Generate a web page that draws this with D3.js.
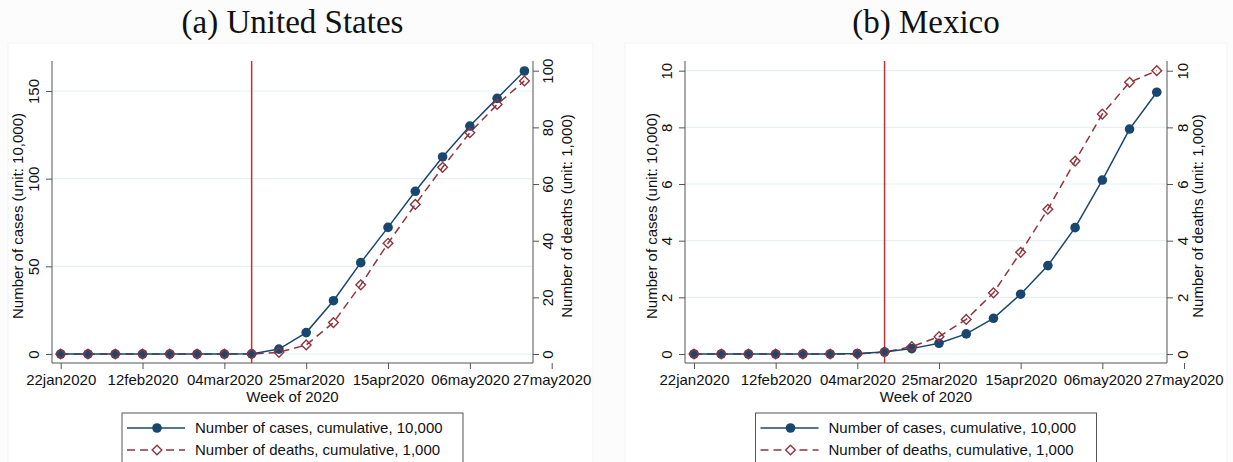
<!DOCTYPE html>
<html>
<head>
<meta charset="utf-8">
<script src="https://cdn.jsdelivr.net/npm/d3@7"></script>
<style>
  body { margin: 0; background: #fcfcfc; }
  svg { display: block; }
</style>
</head>
<body>
<svg id="chart" width="1233" height="462"></svg>
<script>
// weekly data, 22jan2020 .. 20may2020
const weeks = ["22jan2020","29jan2020","05feb2020","12feb2020","19feb2020","26feb2020",
  "04mar2020","11mar2020","18mar2020","25mar2020","01apr2020","08apr2020",
  "15apr2020","22apr2020","29apr2020","06may2020","13may2020","20may2020"];
const tickLabels = ["22jan2020","12feb2020","04mar2020","25mar2020","15apr2020","06may2020","27may2020"];
const eventWeek = "11mar2020";

const usCases  = [0,0,0,0,0,0,0,0.1,2.8,12.2,30.4,52.1,72.2,92.8,112.4,130.0,145.8,161.4];
const usDeaths = [0,0,0,0,0,0,0,0,0.6,3.2,11.1,24.4,39.1,52.8,65.9,78.1,88.1,96.4];
const mxCases  = [0,0,0,0,0,0,0.02,0.07,0.19,0.38,0.71,1.26,2.11,3.12,4.46,6.14,7.94,9.24];
const mxDeaths = [0,0,0,0,0,0,0,0.07,0.26,0.61,1.22,2.16,3.59,5.11,6.81,8.47,9.59,10.0];

const usLeftTicks = [0,50,100,150];
const usRightTicks = [0,20,40,60,80,100];
const mxLeftTicks = [0,2,4,6,8,10];
const mxRightTicks = [0,2,4,6,8,10];

const legendLabels = ["Number of cases, cumulative, 10,000", "Number of deaths, cumulative, 1,000"];

const parse = d3.timeParse("%d%b%Y");
const navy = "#1a476f", maroon = "#90353b", vred = "#c0323c";
const font = "'Liberation Sans', Arial, Helvetica, sans-serif";
const fs = "15px";

const svg = d3.select("#chart");

function drawPanel(p) {
  const g = svg.append("g");

  // panel background
  g.append("rect")
    .attr("x", p.px0).attr("y", 43)
    .attr("width", p.px1 - p.px0).attr("height", 440)
    .attr("fill", "white").attr("stroke", "#f3f3f3");

  // title
  g.append("text")
    .attr("x", (p.left + p.right) / 2).attr("y", 33)
    .attr("text-anchor", "middle")
    .attr("font-family", "'Liberation Serif', 'DejaVu Serif', serif")
    .attr("font-size", "33px")
    .attr("fill", "#111")
    .text(p.title);

  const x = d3.scaleTime()
    .domain([parse("22jan2020"), parse("27may2020")])
    .range([p.x0, p.x1]);
  const yL = d3.scaleLinear().domain([0, p.leftTicks[p.leftTicks.length - 1]]).range([354, p.yTopL]);
  const yR = d3.scaleLinear().domain([0, p.rightTicks[p.rightTicks.length - 1]]).range([354, p.yTopR]);

  // grid
  g.selectAll(".grid").data(p.leftTicks).join("line")
    .attr("x1", p.left).attr("x2", p.right)
    .attr("y1", d => yL(d)).attr("y2", d => yL(d))
    .attr("stroke", "#e6eff1").attr("stroke-width", 1.2);

  // axes
  const xAxis = g.append("g")
    .attr("transform", `translate(0,${p.bottom})`)
    .call(d3.axisBottom(x).tickValues(tickLabels.map(parse)).tickSize(6).tickPadding(5)
      .tickFormat(d => d3.timeFormat("%d%b%Y")(d).toLowerCase()));
  xAxis.select(".domain").remove();
  g.append("line")
    .attr("x1", p.left).attr("x2", p.right).attr("y1", p.bottom).attr("y2", p.bottom)
    .attr("stroke", "#555");

  const leftAxis = g.append("g")
    .attr("transform", `translate(${p.left},0)`)
    .call(d3.axisLeft(yL).tickValues(p.leftTicks).tickSize(6));
  leftAxis.select(".domain").remove();
  g.append("line")
    .attr("x1", p.left).attr("x2", p.left).attr("y1", p.top).attr("y2", p.bottom)
    .attr("stroke", "#555");

  const rightAxis = g.append("g")
    .attr("transform", `translate(${p.right},0)`)
    .call(d3.axisRight(yR).tickValues(p.rightTicks).tickSize(6));
  rightAxis.select(".domain").remove();
  g.append("line")
    .attr("x1", p.right).attr("x2", p.right).attr("y1", p.top).attr("y2", p.bottom)
    .attr("stroke", "#555");

  [xAxis, leftAxis, rightAxis].forEach(a => {
    a.selectAll(".tick line").attr("stroke", "#555");
    a.selectAll("text").attr("font-family", font).attr("font-size", fs).attr("fill", "#111");
  });
  // vertical tick labels
  leftAxis.selectAll(".tick text")
    .attr("transform", `translate(${-p.lLab},0) rotate(-90)`)
    .attr("x", 0).attr("y", 0).attr("dy", "0.35em").attr("text-anchor", "middle");
  rightAxis.selectAll(".tick text")
    .attr("transform", `translate(${p.rLab},0) rotate(-90)`)
    .attr("x", 0).attr("y", 0).attr("dy", "0.35em").attr("text-anchor", "middle");

  // axis titles
  g.append("text")
    .attr("transform", `translate(${p.left - p.lTitle},${(p.top + p.bottom) / 2 + 4}) rotate(-90)`)
    .attr("text-anchor", "middle").attr("dy", "0.35em")
    .attr("font-family", font).attr("font-size", fs).attr("fill", "#111")
    .text("Number of cases (unit: 10,000)");
  g.append("text")
    .attr("transform", `translate(${p.right + p.rTitle},${(p.top + p.bottom) / 2 + 4}) rotate(-90)`)
    .attr("text-anchor", "middle").attr("dy", "0.35em")
    .attr("font-family", font).attr("font-size", fs).attr("fill", "#111")
    .text("Number of deaths (unit: 1,000)");
  g.append("text")
    .attr("x", (p.left + p.right) / 2).attr("y", 402)
    .attr("text-anchor", "middle")
    .attr("font-family", font).attr("font-size", fs).attr("fill", "#111")
    .text("Week of 2020");

  // vertical event line
  g.append("line")
    .attr("x1", x(parse(eventWeek))).attr("x2", x(parse(eventWeek)))
    .attr("y1", p.top).attr("y2", p.bottom)
    .attr("stroke", vred).attr("stroke-width", 1.5);

  const dates = weeks.map(parse);

  // deaths (dashed, hollow diamonds)
  g.append("path")
    .datum(p.deaths)
    .attr("fill", "none").attr("stroke", maroon).attr("stroke-width", 1.5)
    .attr("stroke-dasharray", "8,5")
    .attr("d", d3.line().x((d, i) => x(dates[i])).y(d => yR(d)));

  // cases (solid, filled circles)
  g.append("path")
    .datum(p.cases)
    .attr("fill", "none").attr("stroke", navy).attr("stroke-width", 1.5)
    .attr("d", d3.line().x((d, i) => x(dates[i])).y(d => yL(d)));
  g.selectAll(".case").data(p.cases).join("circle")
    .attr("cx", (d, i) => x(dates[i])).attr("cy", d => yL(d))
    .attr("r", 4.8).attr("fill", navy);

  const diamond = d3.symbol().type(d3.symbolDiamond2).size(60);
  g.selectAll(".death").data(p.deaths).join("path")
    .attr("transform", (d, i) => `translate(${x(dates[i])},${yR(d)})`)
    .attr("d", diamond)
    .attr("fill", "none").attr("stroke", maroon).attr("stroke-width", 1.4);

  // legend
  const lx = (p.left + p.right) / 2 - 170.5;
  const legend = g.append("g").attr("transform", `translate(${lx},413)`);
  legend.append("rect")
    .attr("x", 0).attr("y", 0).attr("width", 341).attr("height", 60)
    .attr("fill", "white").attr("stroke", "#555").attr("stroke-width", 1);
  legend.append("line").attr("x1", 5).attr("x2", 63).attr("y1", 15).attr("y2", 15)
    .attr("stroke", navy).attr("stroke-width", 1.5);
  legend.append("circle").attr("cx", 35).attr("cy", 15).attr("r", 4.8).attr("fill", navy);
  legend.append("line").attr("x1", 5).attr("x2", 63).attr("y1", 37).attr("y2", 37)
    .attr("stroke", maroon).attr("stroke-width", 1.5).attr("stroke-dasharray", "8,5");
  legend.append("path").attr("transform", "translate(35,37)").attr("d", diamond)
    .attr("fill", "white").attr("stroke", maroon).attr("stroke-width", 1.4);
  legend.selectAll(".lab").data(legendLabels).join("text")
    .attr("x", 73).attr("y", (d, i) => 15 + i * 22).attr("dy", "0.35em")
    .attr("font-family", font).attr("font-size", fs).attr("fill", "#111")
    .text(d => d);
}

drawPanel({
  title: "(a) United States", px0: 8, px1: 593,
  left: 52, right: 533, top: 61, bottom: 363,
  x0: 60.7, x1: 551.7, yTopL: 91, yTopR: 70.7,
  lLab: 18, lTitle: 34, rLab: 15, rTitle: 34,
  leftTicks: usLeftTicks, rightTicks: usRightTicks,
  cases: usCases, deaths: usDeaths
});
drawPanel({
  title: "(b) Mexico", px0: 625, px1: 1227,
  left: 685, right: 1167, top: 61, bottom: 363,
  x0: 694, x1: 1184, yTopL: 70.7, yTopR: 70.7,
  lLab: 18, lTitle: 33, rLab: 16, rTitle: 31,
  leftTicks: mxLeftTicks, rightTicks: mxRightTicks,
  cases: mxCases, deaths: mxDeaths
});
</script>
</body>
</html>
